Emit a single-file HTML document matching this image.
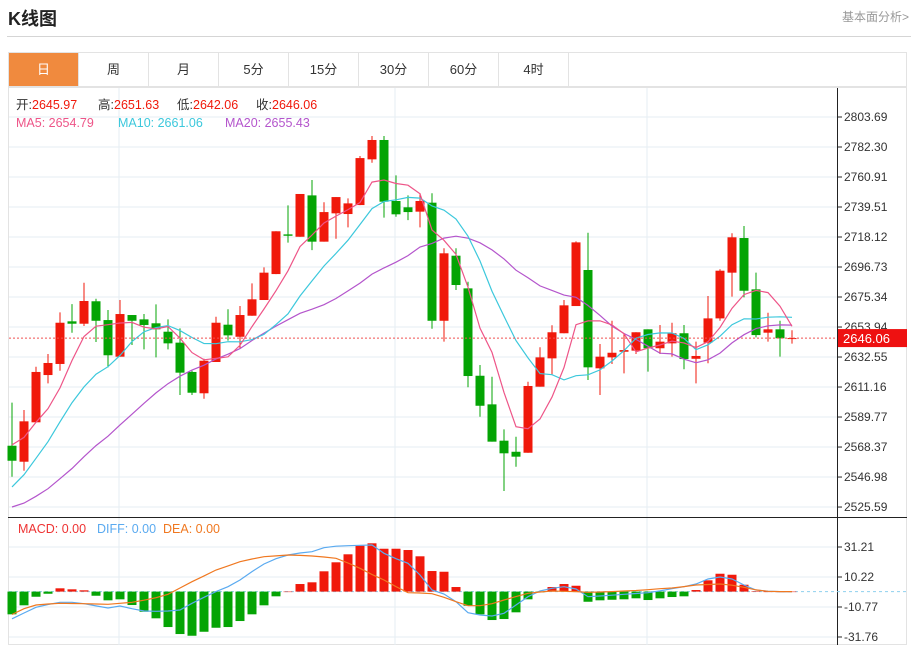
<!DOCTYPE html>
<html><head><meta charset="utf-8">
<style>
body{margin:0;width:911px;height:649px;background:#fff;font-family:"Liberation Sans","Noto Sans CJK SC",sans-serif;overflow:hidden;position:relative}
.title{position:absolute;left:8px;top:5px;font-size:18px;font-weight:bold;color:#222}
.more{position:absolute;right:2px;top:8px;font-size:12px;color:#999}
.hline{position:absolute;left:7px;right:0;top:36px;height:1px;background:#d5d5d5}
.tabs{position:absolute;left:8px;top:52px;width:899px;height:35px;border:1px solid #e3e3e3;box-sizing:border-box;display:flex}
.tab{width:70px;border-right:1px solid #e3e3e3;text-align:center;line-height:33px;font-size:13px;color:#333;box-sizing:border-box}
.tab.on{background:#f08a3e;color:#fff}
svg{position:absolute;left:0;top:0}
</style></head><body>
<div class="title">K线图</div>
<div class="more">基本面分析&gt;</div>
<div class="hline"></div>
<div class="tabs">
<div class="tab on">日</div>
<div class="tab">周</div>
<div class="tab">月</div>
<div class="tab">5分</div>
<div class="tab">15分</div>
<div class="tab">30分</div>
<div class="tab">60分</div>
<div class="tab">4时</div>
</div>
<svg id="chart" width="911" height="649"></svg>
<script>
const opens=[2569.3,2557.9,2586.0,2619.7,2627.6,2658.0,2656.3,2672.3,2658.9,2632.8,2662.5,2659.4,2656.6,2650.6,2642.8,2621.9,2606.7,2629.0,2655.6,2647.0,2662.0,2673.2,2691.7,2720.0,2718.3,2747.8,2714.8,2735.0,2734.5,2740.9,2773.5,2787.3,2743.8,2739.3,2736.2,2742.6,2658.4,2704.8,2681.5,2619.2,2598.8,2572.9,2565.0,2564.3,2611.4,2631.6,2649.5,2668.9,2694.6,2624.5,2632.3,2636.3,2637.1,2652.3,2638.8,2642.3,2649.5,2631.3,2642.8,2660.1,2692.7,2717.4,2680.8,2649.9,2652.3,2645.97];
const closes=[2558.6,2586.7,2621.9,2628.3,2657.0,2656.3,2672.5,2658.4,2633.8,2663.2,2658.4,2655.4,2652.3,2642.3,2621.4,2607.1,2629.9,2657.0,2648.0,2662.5,2673.7,2692.7,2722.2,2719.0,2748.8,2714.8,2735.9,2746.6,2742.1,2774.4,2787.3,2743.3,2734.3,2735.9,2743.8,2658.4,2706.5,2683.9,2619.0,2597.8,2572.2,2563.9,2561.5,2611.9,2632.3,2650.2,2669.4,2714.3,2625.2,2632.8,2635.6,2637.5,2650.2,2638.8,2643.5,2649.5,2631.1,2633.3,2660.1,2694.1,2717.9,2679.8,2648.2,2652.3,2645.9,2646.06];
const highs=[2600.0,2594.8,2625.6,2634.7,2664.4,2670.3,2685.5,2674.1,2666.1,2673.2,2662.5,2663.2,2670.1,2659.4,2653.0,2622.8,2631.3,2661.3,2666.6,2668.9,2685.1,2696.5,2722.2,2740.7,2748.8,2758.8,2742.9,2746.6,2745.7,2775.9,2790.1,2790.1,2762.1,2747.8,2749.3,2749.3,2710.1,2710.1,2686.2,2626.9,2618.5,2581.0,2575.7,2614.9,2639.5,2655.2,2673.2,2715.0,2721.2,2641.8,2658.4,2649.5,2650.2,2652.3,2655.4,2657.0,2655.4,2643.5,2676.1,2695.1,2720.8,2726.0,2692.7,2664.1,2658.4,2651.63];
const lows=[2547.2,2551.5,2586.0,2613.8,2622.8,2649.9,2654.7,2643.3,2625.2,2632.8,2641.1,2638.0,2632.3,2638.0,2605.5,2605.5,2602.8,2629.0,2644.2,2638.8,2662.0,2673.2,2691.7,2714.1,2718.3,2708.8,2714.8,2716.9,2725.0,2740.9,2771.1,2731.9,2732.6,2730.2,2725.0,2652.7,2643.5,2680.3,2611.0,2590.0,2572.2,2537.0,2554.3,2564.3,2611.4,2619.7,2649.5,2668.9,2616.2,2605.5,2627.6,2620.9,2634.7,2622.1,2634.7,2632.8,2623.8,2613.8,2628.1,2658.4,2675.6,2675.1,2646.6,2643.5,2632.8,2642.06];
const priorCloses=[2530,2525,2520,2515,2510,2505,2500,2500,2502,2505,2500,2505,2510,2515,2520,2560,2568,2580,2583];
const macdBars=[-15.9,-9.6,-3.6,-1.5,2.3,1.6,0.9,-2.9,-6.1,-5.4,-9.4,-14.1,-18.7,-24.8,-29.7,-30.9,-28.1,-25.3,-24.8,-20.6,-15.9,-9.6,-3.3,0,5.3,6.5,14.2,20.5,26.1,32.1,33.8,30.0,30.0,29.1,24.7,14.4,13.9,3.2,-9.9,-15.9,-19.9,-19.2,-14.5,-5.4,-0.5,3.2,5.3,4.1,-7.1,-6.1,-5.7,-5.4,-4.7,-5.9,-4.7,-3.8,-3.3,1.1,7.9,12.5,11.8,4.8,0.3,0,0,0];
const diffLine=[-19,-15,-11,-9,-7.5,-7.5,-8.5,-10,-11.5,-10.1,-12,-13.6,-13.8,-13.6,-12.9,-8.2,-4,0,3.4,8.1,14,19.3,23,25.6,27,27.9,30.7,31.8,32.1,32.4,32.6,26.8,23,19.8,11.6,1.1,-1.7,-7.1,-14.8,-16.4,-17.1,-15.2,-9.4,-3.6,0.4,2.3,3.4,1.8,-3.6,-3.1,-2.5,-1.9,-1.3,-0.8,0.5,2,3.4,5.3,8.8,10.2,8.8,4.6,1.1,0.3,0,0];
const deaLine=[-16,-12,-9.4,-8.7,-8.2,-8.3,-8.5,-8.7,-8.9,-8.2,-7.5,-6,-4.3,-1.9,2.5,6.9,11,15.1,18,20.9,22.8,24.4,25,25.6,25.3,24.9,24.2,23.3,20,16.3,12,8.1,3.5,-0.8,-1,-1.5,-4,-7.1,-9.9,-9.9,-8.5,-5.9,-3.5,-1.2,-0.3,0.4,0.2,0,-0.5,-0.3,0,0.4,0.8,1.3,2,2.5,3.5,4.6,5,5.3,4.5,3,1.2,0.2,0,0];
const priceTicks=[2803.69,2782.30,2760.91,2739.51,2718.12,2696.73,2675.34,2653.94,2632.55,2611.16,2589.77,2568.37,2546.98,2525.59];
const macdTicks=[31.21,10.22,-10.77,-31.76];

const NS='http://www.w3.org/2000/svg';
const svg=document.getElementById('chart');
function mk(t,a,parent){const e=document.createElementNS(NS,t);for(const k in a)e.setAttribute(k,a[k]);(parent||svg).appendChild(e);return e;}
const X=i=>12+i*12;
const Y=p=>117+(2803.69-p)*1.4025;
const MY=v=>591.6-v*1.429;
const RED='#f0190b',GREEN='#04a404';
let g=mk('g',{});
mk('rect',{x:8.5,y:87.5,width:898,height:557,fill:'none',stroke:'#e3e3e3'},g);
priceTicks.forEach(t=>mk('line',{x1:9,x2:837,y1:Y(t),y2:Y(t),stroke:'#e6edf3'},g));
macdTicks.forEach(t=>mk('line',{x1:9,x2:837,y1:MY(t),y2:MY(t),stroke:'#e6edf3'},g));
[119,395,647].forEach(x=>mk('line',{x1:x,x2:x,y1:88,y2:645,stroke:'#e6edf3'},g));
mk('line',{x1:8,x2:907,y1:517.5,y2:517.5,stroke:'#222'},g);
mk('line',{x1:837.5,x2:837.5,y1:88,y2:645,stroke:'#222'},g);
priceTicks.forEach(t=>{const y=Y(t);mk('line',{x1:837,x2:842,y1:y,y2:y,stroke:'#222'});
 const tx=mk('text',{x:844,y:y+4,'font-size':12,fill:'#333'});tx.textContent=t.toFixed(2);
 
 });
macdTicks.forEach(t=>{const y=MY(t);mk('line',{x1:837,x2:842,y1:y,y2:y,stroke:'#222'});
 const tx=mk('text',{x:844,y:y+4,'font-size':12,fill:'#333'});tx.textContent=t.toFixed(2);
 
 });
const all=priorCloses.concat(closes);
function ma(n){return closes.map((c,i)=>{let s=0;for(let k=0;k<n;k++)s+=all[priorCloses.length+i-k];return s/n;});}
function line(vals,yf,color,name){const p=mk('polyline',{points:vals.map((v,i)=>X(i)+','+yf(v).toFixed(1)).join(' '),fill:'none',stroke:color,'stroke-width':1.2});
 
 }
closes.forEach((c,i)=>{const o=opens[i];const up=c>=o;const col=up?RED:GREEN;const x=X(i);
 const cg=mk('g',{});
 
 
 mk('line',{x1:x,x2:x,y1:Y(highs[i]),y2:Y(lows[i]),stroke:col,'stroke-width':1},cg);
 const t=Y(Math.max(o,c)),b=Y(Math.min(o,c));
 mk('rect',{x:x-4.5,y:t,width:9,height:Math.max(1,b-t),fill:col},cg);});
line(ma(20),Y,'#b455cc','ma20-line');
line(ma(10),Y,'#3cc8dc','ma10-line');
line(ma(5),Y,'#ee5588','ma5-line');
const cp=closes[closes.length-1];
mk('line',{x1:9,x2:837,y1:Y(cp),y2:Y(cp),stroke:'#f05050','stroke-dasharray':'2,2'});
const lbl=mk('rect',{x:838,y:Y(cp)-9,width:69,height:18,fill:'#ee1111'});


const lt=mk('text',{x:843,y:Y(cp)+5,'font-size':13,fill:'#fff'});lt.textContent=cp.toFixed(2);
mk('line',{x1:9,x2:907,y1:MY(0),y2:MY(0),stroke:'#8fd0ee','stroke-dasharray':'3,3'});
macdBars.forEach((v,i)=>{const r=mk('rect',{x:X(i)-4.5,y:Math.min(MY(v),MY(0)),width:9,height:Math.max(0.5,Math.abs(MY(v)-MY(0))),fill:v>=0?RED:GREEN});
 
 });
line(diffLine,MY,'#5aaaf0','diff-line');
line(deaLine,MY,'#f07820','dea-line');
function txt(x,y,s,c,name){const t=mk('text',{x:x,y:y,'font-size':12.5,fill:c});t.textContent=s;
 
 return t;}
txt(16,109,'开:','#333','open-label');txt(32,109,'2645.97',RED,'open-value');
txt(98,109,'高:','#333','high-label');txt(114,109,'2651.63',RED,'high-value');
txt(177,109,'低:','#333','low-label');txt(193,109,'2642.06',RED,'low-value');
txt(256,109,'收:','#333','close-label');txt(272,109,'2646.06',RED,'close-value');
txt(16,127,'MA5: 2654.79','#ee5588','ma5-legend');
txt(118,127,'MA10: 2661.06','#3cc8dc','ma10-legend');
txt(225,127,'MA20: 2655.43','#b455cc','ma20-legend');
txt(18,533,'MACD: 0.00','#ee3333','macd-legend');
txt(97,533,'DIFF: 0.00','#5aaaf0','diff-legend');
txt(163,533,'DEA: 0.00','#f07820','dea-legend');
</script>
</body></html>
